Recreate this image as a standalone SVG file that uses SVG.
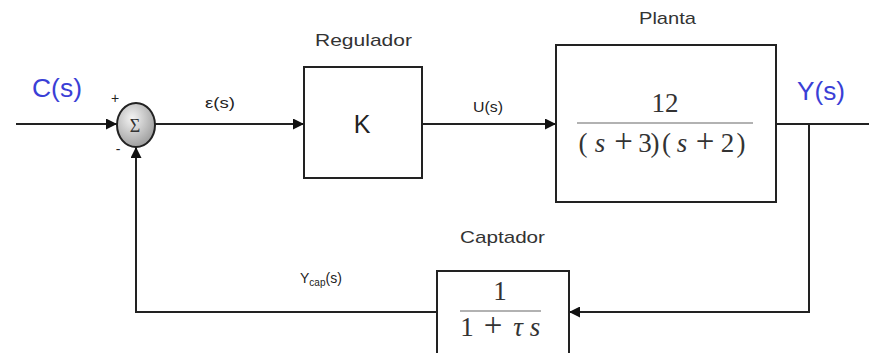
<svg xmlns="http://www.w3.org/2000/svg" width="869" height="353" viewBox="0 0 869 353">
<defs>
<marker id="arr" viewBox="0 0 10 10" refX="10" refY="5" markerWidth="11" markerHeight="11" markerUnits="userSpaceOnUse" orient="auto">
<path d="M0,0 L10,5 L0,10 z" fill="#111"/>
</marker>
<radialGradient id="sumg" cx="0.4" cy="0.35" r="0.7">
<stop offset="0" stop-color="#f4f4f4"/>
<stop offset="1" stop-color="#9a9a9a"/>
</radialGradient>
</defs>
<style>
.box{fill:#fff;stroke:#222;stroke-width:2}
.ln{fill:none;stroke:#222;stroke-width:2}
.lbl{font-family:"Liberation Sans",Arial,sans-serif;font-size:17px;fill:#333}
.sig{font-family:"Liberation Sans",Arial,sans-serif;font-size:14px;fill:#222}
.io{font-family:"Liberation Sans",Arial,sans-serif;font-size:25px;fill:#3a3fd6}
.math{font-family:"Liberation Serif","Times New Roman",serif;font-size:27px;fill:#333;text-anchor:middle}
.mi{font-style:italic}
.op{font-size:33px}
</style>
<rect width="869" height="353" fill="#fff"/>
<g id="connectors">
<line class="ln" x1="16" y1="124" x2="117" y2="124" marker-end="url(#arr)"/>
<line class="ln" x1="155" y1="124" x2="304" y2="124" marker-end="url(#arr)"/>
<line class="ln" x1="422" y1="124" x2="556" y2="124" marker-end="url(#arr)"/>
<line class="ln" x1="776" y1="124" x2="869" y2="124"/>
<polyline class="ln" points="809,124 809,312 569,312" marker-end="url(#arr)"/>
<polyline class="ln" points="437,312 136,312 136,147" marker-end="url(#arr)"/>
</g>
<g id="sum">
<ellipse cx="136" cy="125" rx="19" ry="22" fill="url(#sumg)" stroke="#222" stroke-width="2"/>
<text x="135" y="132" text-anchor="middle" font-family="Liberation Serif,serif" font-size="18" fill="#333">Σ</text>
<text x="115" y="103" text-anchor="middle" class="sig" font-size="17">+</text>
<text x="118" y="154" text-anchor="middle" class="sig" font-size="17">-</text>
</g>
<g id="input">
<text x="32" y="97" class="io" textLength="50" lengthAdjust="spacingAndGlyphs">C(s)</text>
</g>
<g id="regulador">
<rect class="box" x="304" y="67" width="118" height="111"/>
<text x="315" y="46" class="lbl" textLength="97" lengthAdjust="spacingAndGlyphs">Regulador</text>
<text x="362" y="133" text-anchor="middle" font-family="Liberation Sans,Arial,sans-serif" font-size="25" fill="#222">K</text>
</g>
<g id="planta">
<rect class="box" x="556" y="45" width="220" height="157"/>
<text x="639" y="24" class="lbl" textLength="57" lengthAdjust="spacingAndGlyphs">Planta</text>
<text x="665" y="112" class="math">12</text>
<line x1="577" y1="123" x2="753" y2="123" stroke="#666" stroke-width="1.2"/>
<text y="152" class="math"><tspan x="583">(</tspan><tspan x="600" class="mi">s</tspan><tspan x="623.5" class="op">+</tspan><tspan x="645">3</tspan><tspan x="655">)</tspan><tspan x="666.5">(</tspan><tspan x="682" class="mi">s</tspan><tspan x="705" class="op">+</tspan><tspan x="727.5">2</tspan><tspan x="741">)</tspan></text>
</g>
<g id="output">
<text x="797" y="100" class="io" textLength="48" lengthAdjust="spacingAndGlyphs">Y(s)</text>
</g>
<g id="captador">
<rect class="box" x="437" y="271" width="132" height="90"/>
<text x="460" y="243" class="lbl" textLength="85" lengthAdjust="spacingAndGlyphs">Captador</text>
<text x="500" y="300" class="math">1</text>
<line x1="460" y1="311" x2="541" y2="311" stroke="#666" stroke-width="1.2"/>
<text y="336" class="math"><tspan x="467">1</tspan><tspan x="493" class="op">+</tspan><tspan x="518" class="mi">τ</tspan><tspan x="535" class="mi">s</tspan></text>
</g>
<g id="labels">
<text x="205" y="108" class="sig" textLength="30" lengthAdjust="spacingAndGlyphs">ε(s)</text>
<text x="473" y="112" class="sig" textLength="30" lengthAdjust="spacingAndGlyphs">U(s)</text>
<text x="300" y="283" class="sig">Y<tspan font-size="10" dy="3">cap</tspan><tspan dy="-3">(s)</tspan></text>
</g>
</svg>
